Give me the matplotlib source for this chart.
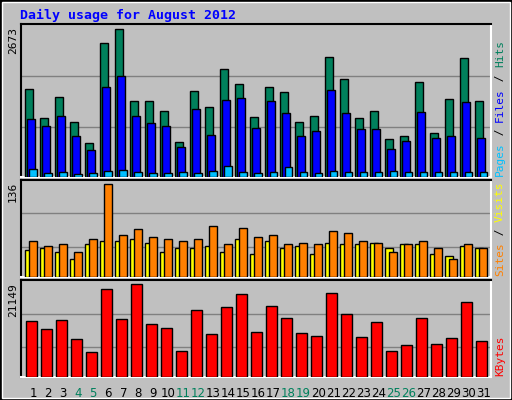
import matplotlib
matplotlib.use("Agg")
import matplotlib.pyplot as plt
from matplotlib.patches import Rectangle
import numpy as np

days = list(range(1, 32))
hits = [1585,1059,1440,1004,624,2419,2673,1367,1367,1186,642,1548,1258,1947,1675,1077,
        1621,1530,1004,1095,2165,1766,1059,1186,696,751,1711,805,1403,2147,1367]
files = [1041,932,1095,751,497,1621,1820,1095,986,932,551,1222,769,1385,1422,878,
         1367,1150,751,841,1567,1150,860,860,515,660,1168,714,751,1349,714]
pages = [152,80,98,62,80,116,134,98,80,80,98,80,116,207,98,80,
         98,189,98,80,116,98,98,98,116,98,98,98,98,98,98]
visits = [40,42,37,26,48,53,53,56,50,37,42,42,46,36,56,34,
          52,42,46,34,50,48,48,50,43,48,48,34,31,45,42]
sites = [53,45,49,36,56,136,62,70,59,55,52,55,75,48,72,59,
         61,49,50,49,68,64,52,50,37,48,52,43,26,49,43]
kbytes = [12782,10923,13015,8600,5810,19988,13247,21149,12085,11155,6042,15340,9761,16036,19057,10226,
          16268,13480,9993,9296,19290,14409,9064,12550,6042,7204,13480,7437,8832,17198,8134]
weekend = [4,5,11,12,18,19,25,26]

W, H = 512, 400
fig = plt.figure(figsize=(W/100, H/100), dpi=100, facecolor="#C0C0C0")
fig.patches.append(Rectangle((0, 0), 1, 1, transform=fig.transFigure, fill=False,
                             edgecolor="black", lw=2.5))
fig.patches.append(Rectangle((2/W, 2/H), 1-4/W, 1-4/H, transform=fig.transFigure, fill=False,
                             edgecolor="white", lw=1))

x = np.array(days)
GRN = "#00805C"

def panel(top, bot):
    ax = fig.add_axes([20.7/W, 1-bot/H, 470/W, (bot-top)/H])
    ax.set_facecolor("#C0C0C0")
    ax.set_xlim(0.16, 31.49)
    for s in ("top", "left"):
        ax.spines[s].set_color("black"); ax.spines[s].set_linewidth(1.5)
    for s in ("bottom", "right"):
        ax.spines[s].set_color("white"); ax.spines[s].set_linewidth(1.5)
    ax.set_xticks([]); ax.set_yticks([])
    return ax

ec = dict(edgecolor="black", linewidth=1, zorder=3)
ax1 = panel(24, 177)
ax1.set_ylim(0, 2769)
for g in (896, 1820):
    ax1.axhline(g, color="#808080", lw=1, zorder=1)
ax1.bar(x-0.3, hits, 0.51, color=GRN, **ec)
ax1.bar(x-0.14, files, 0.51, color="#0000FF", **ec)
ax1.bar(x+0.0, pages, 0.51, color="#00C0FF", **ec)

ax2 = panel(180, 277)
ax2.set_ylim(0, 142)
for g in (44.6, 93):
    ax2.axhline(g, color="#808080", lw=1, zorder=1)
ax2.bar(x-0.3, visits, 0.51, color="#FFFF00", **ec)
ax2.bar(x-0.02, sites, 0.49, color="#FF8000", **ec)

ax3 = panel(280, 377)
ax3.set_ylim(0, 22150)
for g in (6740, 14409):
    ax3.axhline(g, color="#808080", lw=1, zorder=1)
ax3.bar(x-0.12, kbytes, 0.69, color="#FF0000", **ec)
for d in days:
    ax3.text(d, -0.1, str(d), transform=ax3.get_xaxis_transform(), ha="center", va="top",
             fontsize=8.5, color=GRN if d in weekend else "black", family="DejaVu Sans")

fig.text(20/W, 1-15/H, "Daily usage for August 2012", color="#0000FF", fontsize=9.5,
         fontweight="bold", family="DejaVu Sans Mono", va="center", ha="left")

for lab, ytop in (("2673", 27), ("136", 182), ("21149", 283)):
    fig.text(13/W, 1-ytop/H, lab, rotation=90, ha="center", va="top", fontsize=8,
             family="DejaVu Sans Mono")

def vlabel(parts, ybot):
    y = ybot
    for t, c in parts:
        fig.text(500/W, 1-y/H, t, rotation=90, ha="center", va="bottom", color=c,
                 fontsize=8, family="DejaVu Sans Mono")
        y -= len(t)*6.8

vlabel([("Pages", "#00C0FF"), (" / ", "black"), ("Files", "#0000FF"), (" / ", "black"), ("Hits", GRN)], 176)
vlabel([("Sites", "#FF8000"), (" / ", "black"), ("Visits", "#FFFF00")], 276)
vlabel([("KBytes", "#FF0000")], 376)

fig.savefig("out.png", dpi=100, facecolor=fig.get_facecolor())
